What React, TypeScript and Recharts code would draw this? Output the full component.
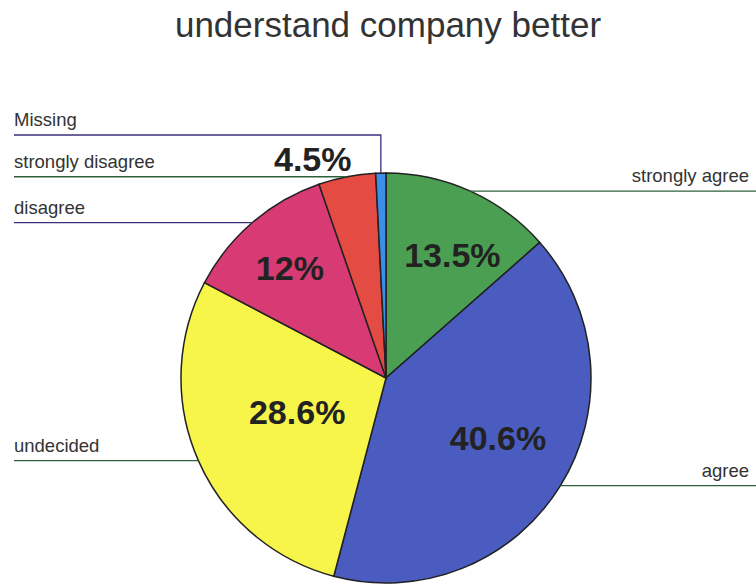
import React from 'react';
import { PieChart, Pie, Cell } from 'recharts';

const categories = ['strongly agree', 'agree', 'undecided', 'disagree', 'strongly disagree', 'Missing'];
const percents = [13.5, 40.6, 28.6, 12, 4.5, 0.8];
const percentLabels = ['13.5%', '40.6%', '28.6%', '12%', '4.5%', ''];

const colors = ['#4b9f52', '#4a5cbf', '#f7f44a', '#d83b74', '#e44b42', '#3d8ee6'];
const lineColors = ['#2f5f3a', '#2f5f3a', '#2f5f3a', '#3b2f7a', '#2f5f3a', '#3b2f7a'];
// label placement styling (radius from centre, angle offset in degrees)
const labelRadius = [140, 127, 95, 146, 231, 0];
const labelAngleShift = [-4, 3.5, -3, 0.5, 7.5, 0];

const data = categories.map((name, i) => ({ name, value: percents[i], pct: percentLabels[i] }));

const RAD = Math.PI / 180;

const renderLabel = (props: any) => {
  const { cx, cy, midAngle, outerRadius, index, name, payload } = props;
  const ex = cx + outerRadius * Math.cos(-midAngle * RAD);
  const ey = cy + outerRadius * Math.sin(-midAngle * RAD);
  const isRight = ex > cx;
  const lc = lineColors[index];
  const pct = payload?.pct ?? percentLabels[index];
  const la = (midAngle + labelAngleShift[index]) * RAD;
  const lx = cx + labelRadius[index] * Math.cos(-la);
  const ly = cy + labelRadius[index] * Math.sin(-la);
  const textStyle = { fontFamily: 'Liberation Sans, Arial, sans-serif', fontSize: 18.5, fill: '#333' };
  let lineEl;
  let textEl;
  if (name === 'Missing') {
    const topY = 135;
    lineEl = (
      <polyline points={`${ex},${ey} ${ex},${topY} 14,${topY}`} fill="none" stroke={lc} strokeWidth={1.3} />
    );
    textEl = (
      <text x={14} y={topY - 9} style={textStyle} textAnchor="start">{name}</text>
    );
  } else if (isRight) {
    lineEl = <line x1={ex} y1={ey} x2={756} y2={ey} stroke={lc} strokeWidth={1.3} />;
    textEl = (
      <text x={749} y={ey - 9} style={textStyle} textAnchor="end">{name}</text>
    );
  } else {
    lineEl = <line x1={ex} y1={ey} x2={14} y2={ey} stroke={lc} strokeWidth={1.3} />;
    textEl = (
      <text x={14} y={ey - 9} style={textStyle} textAnchor="start">{name}</text>
    );
  }
  return (
    <g>
      {lineEl}
      {textEl}
      {pct ? (
        <text
          x={lx}
          y={ly}
          textAnchor="middle"
          dominantBaseline="central"
          style={{ fontFamily: 'Liberation Sans, Arial, sans-serif', fontSize: 34, fontWeight: 'bold', fill: '#222' }}
        >
          {pct}
        </text>
      ) : null}
    </g>
  );
};

export default function App() {
  return (
    <div style={{ position: 'absolute', left: 0, top: 0, width: 756, height: 587, background: '#fff' }}>
      <PieChart width={756} height={587} margin={{ top: 0, right: 0, bottom: 0, left: 0 }}>
        <text
          x={388}
          y={24}
          textAnchor="middle"
          dominantBaseline="central"
          style={{ fontFamily: 'Liberation Sans, Arial, sans-serif', fontSize: 35, fill: '#333' }}
        >
          understand company better
        </text>
        <Pie
          data={data}
          dataKey="value"
          nameKey="name"
          cx={386}
          cy={378}
          outerRadius={205}
          startAngle={90}
          endAngle={-270}
          stroke="#222"
          strokeWidth={1.5}
          label={renderLabel}
          labelLine={false}
          isAnimationActive={false}
        >
          {data.map((d, i) => (
            <Cell key={d.name} fill={colors[i]} />
          ))}
        </Pie>
      </PieChart>
    </div>
  );
}
